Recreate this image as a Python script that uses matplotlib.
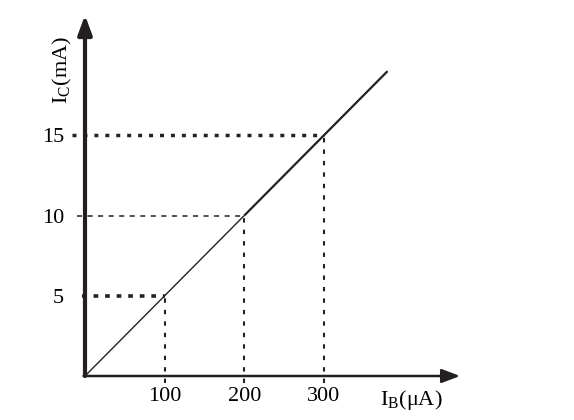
import matplotlib
matplotlib.use("Agg")
import matplotlib.pyplot as plt

# transfer characteristic I_C vs I_B
ib_pts = [0, 100, 200, 300, 380]     # μA
ic_pts = [0, 5, 10, 15, 19]          # mA
ib_ticks = [100, 200, 300]
ic_ticks = [5, 10, 15]

plt.rcParams['font.family'] = ['Liberation Serif', 'DejaVu Serif']
plt.rcParams['mathtext.fontset'] = 'custom'
plt.rcParams['mathtext.rm'] = 'Liberation Serif'

fig = plt.figure(figsize=(5.74, 4.2), dpi=100)
ax = fig.add_axes([85/574, 44/420, 375/574, 361/420])
ax.set_xlim(0, 471)
ax.set_ylim(0, 22.5)
for s in ax.spines.values():
    s.set_visible(False)

# characteristic line: thin near origin, a bit heavier higher up
ax.plot(ib_pts[:3], ic_pts[:3], color='#222222', lw=1.0, solid_capstyle='butt')
ax.plot(ib_pts[2:], ic_pts[2:], color='#222222', lw=1.6, solid_capstyle='butt')

# guide lines
h_start = {5: -4, 10: -10, 15: -16}
h_style = {5: dict(lw=2.6, dashes=(1.3, 1.9)),
           10: dict(lw=1.1, dashes=(3.3, 3.6)),
           15: dict(lw=2.5, dashes=(1.15, 2.0))}
for xv, yv in zip(ib_ticks, ic_ticks):
    ax.plot([h_start[yv], xv], [yv, yv], color='#222222', clip_on=False,
            **h_style[yv])
    ax.plot([xv, xv], [-0.45, yv], color='#222222', lw=1.5, dashes=(2.1, 3.4),
            clip_on=False)

# axes with arrows
ax.annotate('', xy=(0, 1), xytext=(0, 0), xycoords='axes fraction',
            arrowprops=dict(arrowstyle='-|>,head_length=1.15,head_width=0.42',
                            lw=3.0, color='#231f20', shrinkA=0, shrinkB=0,
                            mutation_scale=10))
ax.annotate('', xy=(1, 0), xytext=(-0.004, 0), xycoords='axes fraction',
            arrowprops=dict(arrowstyle='-|>,head_length=1.1,head_width=0.42',
                            lw=1.8, color='#231f20', shrinkA=0, shrinkB=0,
                            mutation_scale=10))

ax.set_xticks(ib_ticks)
ax.set_xticklabels([str(v) for v in ib_ticks])
ax.set_yticks(ic_ticks)
ax.set_yticklabels([str(v) for v in ic_ticks])
ax.tick_params(axis='x', length=0, pad=8, labelsize=16)
ax.tick_params(axis='y', length=0, pad=15, labelsize=16)

ax.text(-0.059, 0.848, r'I$_{\mathregular{C}}$(mA)', transform=ax.transAxes,
        rotation=90, ha='center', va='center', fontsize=16)
ax.text(0.87, -0.066, r'I$_{\mathregular{B}}$(μA)', transform=ax.transAxes,
        ha='center', va='center', fontsize=16)

fig.savefig('out.png', dpi=100)
